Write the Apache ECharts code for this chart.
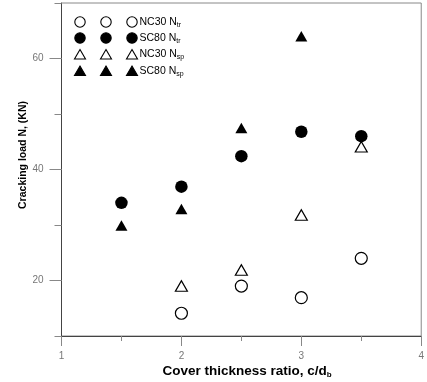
<!DOCTYPE html>
<html>
<head>
<meta charset="utf-8">
<script src="https://cdn.jsdelivr.net/npm/echarts@6/dist/echarts.min.js"></script>
<style>
html,body{margin:0;padding:0;background:#fff;}
#chart{width:427px;height:382px;}
</style>
</head>
<body>
<div id="chart"></div>
<script>
// Data (cover thickness ratio c/d_b vs cracking load, kN)
var coverRatio = [1.5, 2, 2.5, 3, 3.5];
var nc30Ntr = [null, 14.1, 19.0, 16.9, 24.0];
var sc80Ntr = [34.0, 36.9, 42.4, 46.8, 46.0];
var nc30Nsp = [null, 19.0, 21.9, 31.8, 44.1];
var sc80Nsp = [29.9, 32.9, 47.5, 64.0, null];
var xTickLabels = [1, 2, 3, 4];
var yTickLabels = [20, 40, 60];
var seriesNames = ['NC30 N{s|tr}', 'SC80 N{s|tr}', 'NC30 N{s|sp}', 'SC80 N{s|sp}'];

function pairs(vals) {
  var out = [];
  for (var i = 0; i < coverRatio.length; i++) {
    if (vals[i] !== null) out.push([coverRatio[i], vals[i]]);
  }
  return out;
}

var FONT = 'Liberation Sans, Arial, sans-serif';
var chart = echarts.init(document.getElementById('chart'), null, {renderer: 'canvas'});

// Legend drawn as graphic (three symbols per row, SigmaPlot style)
var legendRows = [
  {y: 22, sym: 'circle', fill: '#fff'},
  {y: 38, sym: 'circle', fill: '#000'},
  {y: 54.5, sym: 'tri', fill: '#fff'},
  {y: 71, sym: 'tri', fill: '#000'}
];
var legendX = [80, 106, 132];
var graphics = [];
legendRows.forEach(function (row, idx) {
  legendX.forEach(function (x) {
    if (row.sym === 'circle') {
      graphics.push({type: 'circle', shape: {cx: x, cy: row.y, r: 5.2},
        style: {fill: row.fill, stroke: '#000', lineWidth: 1.1}});
    } else {
      graphics.push({type: 'polygon', shape: {points: [[x, row.y - 5], [x + 5.5, row.y + 4.5], [x - 5.5, row.y + 4.5]]},
        style: {fill: row.fill, stroke: '#000', lineWidth: 1.1}});
    }
  });
  graphics.push({type: 'text', x: 139.5, y: row.y, style: {
    text: seriesNames[idx], font: '10.5px ' + FONT, fill: '#000', verticalAlign: 'middle', align: 'left',
    rich: {s: {fontSize: 7, fontFamily: FONT, padding: [6, 0, 0, 0], verticalAlign: 'middle'}}
  }});
});
// Axis titles
graphics.push({type: 'text', x: 23, y: 155, rotation: Math.PI / 2, style: {
  text: 'Cracking load N, (KN)', font: 'bold 10.5px ' + FONT, fill: '#000', align: 'center', verticalAlign: 'middle'
}});
graphics.push({type: 'text', x: 247, y: 371, style: {
  text: 'Cover thickness ratio, c/d{s|b}', font: 'bold 13.5px ' + FONT, fill: '#000', align: 'center', verticalAlign: 'middle',
  rich: {s: {fontSize: 8, fontWeight: 'bold', fontFamily: FONT, padding: [7, 0, 0, 0], verticalAlign: 'middle'}}
}});

var axisLineStyle = {color: '#444', width: 1};
var tickStyle = {color: '#888', width: 1};

var option = {
  animation: false,
  backgroundColor: '#fff',
  grid: {left: 61.5, right: 1, top: 3, bottom: 46, show: true, borderColor: '#888', borderWidth: 1, containLabel: false},
  xAxis: [{
    type: 'value', min: 1, max: 4, interval: 0.5,
    axisLine: {show: true, lineStyle: axisLineStyle},
    axisTick: {show: true, length: 5, lineStyle: tickStyle},
    axisLabel: {show: true, customValues: xTickLabels, margin: 15, color: '#777', fontSize: 10, fontFamily: FONT},
    splitLine: {show: false}
  }, {
    type: 'value', min: 1, max: 4, interval: 0.5, position: 'bottom',
    axisLine: {show: false},
    axisTick: {show: true, customValues: xTickLabels, length: 10, lineStyle: tickStyle},
    axisLabel: {show: false},
    splitLine: {show: false}
  }],
  yAxis: [{
    type: 'value', min: 10, max: 70, interval: 10,
    axisLine: {show: true, lineStyle: axisLineStyle},
    axisTick: {show: true, length: 7, lineStyle: tickStyle},
    axisLabel: {show: true, customValues: yTickLabels, margin: 18, color: '#777', fontSize: 10, fontFamily: FONT},
    splitLine: {show: false}
  }, {
    type: 'value', min: 10, max: 70, interval: 10, position: 'left',
    axisLine: {show: false},
    axisTick: {show: true, customValues: yTickLabels, length: 12, lineStyle: tickStyle},
    axisLabel: {show: false},
    splitLine: {show: false}
  }],
  series: [
    {name: 'NC30 Ntr', type: 'scatter', data: pairs(nc30Ntr), symbol: 'circle', symbolSize: 12,
      itemStyle: {color: '#fff', borderColor: '#000', borderWidth: 1.2, opacity: 1}},
    {name: 'SC80 Ntr', type: 'scatter', data: pairs(sc80Ntr), symbol: 'circle', symbolSize: 12.5,
      itemStyle: {color: '#000', borderColor: '#000', borderWidth: 0, opacity: 1}},
    {name: 'NC30 Nsp', type: 'scatter', data: pairs(nc30Nsp), symbol: 'triangle', symbolSize: [12, 10.5],
      itemStyle: {color: '#fff', borderColor: '#000', borderWidth: 1.2, opacity: 1}},
    {name: 'SC80 Nsp', type: 'scatter', data: pairs(sc80Nsp), symbol: 'triangle', symbolSize: [12, 10.5],
      itemStyle: {color: '#000', borderColor: '#000', borderWidth: 0, opacity: 1}}
  ],
  graphic: graphics
};
chart.setOption(option);
</script>
</body>
</html>
